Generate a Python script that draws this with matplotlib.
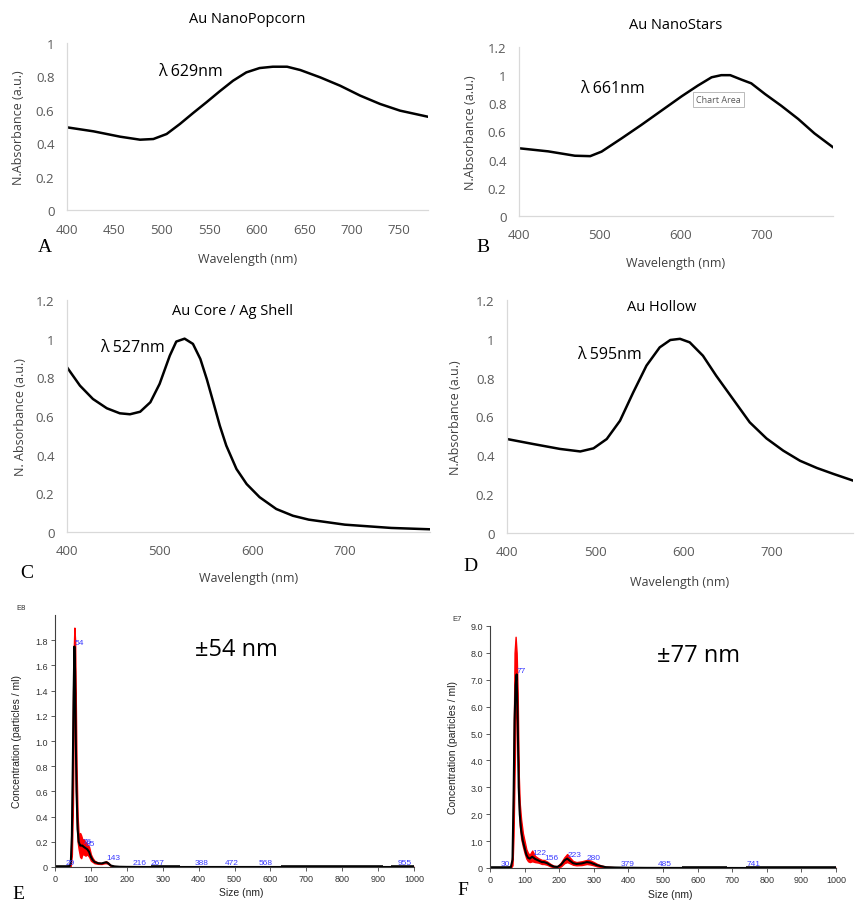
import matplotlib
matplotlib.use("Agg")
import matplotlib.pyplot as plt
import numpy as np

W, H = 858, 904

# ---- UV-Vis spectra (wavelength nm, normalised absorbance) ----
popcorn_wl = [400, 428, 456, 477, 491, 505, 519, 533, 547, 561, 575, 589, 603, 617, 632, 646, 667, 688, 709, 730, 751, 780]
popcorn_abs = [0.495, 0.471, 0.439, 0.421, 0.425, 0.455, 0.515, 0.581, 0.645, 0.711, 0.774, 0.824, 0.85, 0.858, 0.858, 0.838, 0.794, 0.744, 0.685, 0.635, 0.595, 0.559]

stars_wl = [400, 436, 469, 488, 502, 527, 551, 576, 601, 621, 638, 650, 661, 675, 687, 704, 724, 745, 765, 788]
stars_abs = [0.481, 0.459, 0.428, 0.425, 0.457, 0.552, 0.646, 0.748, 0.85, 0.926, 0.985, 1.0, 1.0, 0.968, 0.942, 0.866, 0.783, 0.689, 0.587, 0.488]

coreshell_wl = [400, 414, 428, 443, 457, 468, 479, 490, 500, 511, 518, 527, 536, 544, 551, 558, 565, 572, 583, 594, 608, 626, 644, 661, 700, 750, 792]
coreshell_abs = [0.852, 0.757, 0.688, 0.64, 0.614, 0.609, 0.622, 0.671, 0.766, 0.912, 0.985, 1.0, 0.973, 0.895, 0.79, 0.671, 0.55, 0.447, 0.326, 0.248, 0.18, 0.119, 0.084, 0.064, 0.038, 0.021, 0.014]

hollow_wl = [400, 430, 460, 483, 498, 513, 528, 543, 558, 573, 585, 596, 607, 622, 637, 656, 675, 694, 713, 732, 751, 770, 792]
hollow_abs = [0.484, 0.458, 0.433, 0.42, 0.436, 0.484, 0.578, 0.724, 0.862, 0.956, 0.994, 1.0, 0.982, 0.913, 0.81, 0.69, 0.57, 0.487, 0.424, 0.372, 0.335, 0.304, 0.27]

# ---- NTA size distributions ----
e_size = [0, 30, 40, 44, 47, 50, 52, 54, 56, 58, 60, 63, 66, 70, 73, 76, 80, 85, 90, 95, 100, 105, 110, 120, 130, 138, 143, 148, 155, 165, 180, 200, 250, 300, 400, 500, 600, 700, 800, 900, 1000]
e_mean = [0, 0, 0.005, 0.03, 0.25, 0.9, 1.4, 1.75, 1.55, 1.0, 0.6, 0.3, 0.2, 0.17, 0.17, 0.17, 0.16, 0.15, 0.14, 0.12, 0.08, 0.055, 0.04, 0.03, 0.028, 0.035, 0.038, 0.03, 0.012, 0.005, 0.002, 0.001, 0, 0, 0, 0, 0, 0, 0, 0, 0]
e_upper = [0, 0, 0.01, 0.06, 0.4, 1.3, 1.7, 1.9, 1.8, 1.3, 0.8, 0.4, 0.25, 0.27, 0.25, 0.22, 0.22, 0.2, 0.18, 0.16, 0.1, 0.07, 0.05, 0.035, 0.032, 0.04, 0.045, 0.035, 0.015, 0.007, 0.003, 0.002, 0, 0, 0, 0, 0, 0, 0, 0, 0]
e_lower = [0, 0, 0, 0.01, 0.1, 0.5, 1.1, 1.6, 1.3, 0.7, 0.4, 0.2, 0.14, 0.08, 0.07, 0.1, 0.1, 0.09, 0.1, 0.08, 0.05, 0.04, 0.03, 0.025, 0.024, 0.03, 0.03, 0.025, 0.01, 0.003, 0.001, 0, 0, 0, 0, 0, 0, 0, 0, 0, 0]
e_peaks = [29, 54, 76, 85, 143, 216, 267, 388, 472, 568, 955]
e_base = [(0, 41), (268, 347), (630, 913), (937, 1000)]

f_size = [0, 30, 50, 60, 65, 68, 71, 74, 77, 80, 83, 86, 90, 95, 100, 105, 110, 115, 122, 130, 140, 150, 156, 165, 175, 185, 195, 205, 215, 223, 230, 240, 250, 265, 280, 290, 300, 310, 320, 335, 360, 400, 450, 500, 600, 700, 800, 900, 1000]
f_mean = [0, 0, 0, 0.02, 0.3, 2.5, 5.5, 6.8, 7.2, 5.5, 3.0, 2.0, 1.4, 1.0, 0.75, 0.5, 0.38, 0.35, 0.42, 0.34, 0.28, 0.22, 0.22, 0.18, 0.1, 0.05, 0.04, 0.12, 0.28, 0.35, 0.28, 0.18, 0.15, 0.17, 0.22, 0.2, 0.15, 0.1, 0.07, 0.03, 0.02, 0.01, 0.005, 0.003, 0.002, 0.001, 0, 0, 0]
f_upper = [0, 0, 0, 0.04, 0.5, 4.0, 8.0, 8.6, 8.0, 6.5, 3.5, 2.4, 1.8, 1.3, 1.0, 0.7, 0.55, 0.5, 0.65, 0.45, 0.36, 0.3, 0.3, 0.24, 0.15, 0.08, 0.07, 0.2, 0.4, 0.52, 0.4, 0.26, 0.22, 0.25, 0.3, 0.28, 0.22, 0.15, 0.1, 0.05, 0.03, 0.015, 0.008, 0.005, 0.003, 0.002, 0, 0, 0]
f_lower = [0, 0, 0, 0, 0.1, 1.2, 3.5, 5.5, 6.5, 4.5, 2.5, 1.6, 1.1, 0.8, 0.55, 0.35, 0.25, 0.22, 0.25, 0.22, 0.2, 0.15, 0.15, 0.12, 0.06, 0.02, 0.02, 0.06, 0.18, 0.22, 0.18, 0.12, 0.1, 0.11, 0.15, 0.13, 0.1, 0.06, 0.04, 0.015, 0.01, 0.005, 0.002, 0.001, 0, 0, 0, 0, 0]
f_peaks = [30, 77, 122, 156, 223, 280, 379, 485, 741]
f_base = [(0, 60), (555, 685), (740, 1000)]

XL = ["Open Sans", "DejaVu Sans"]
NTA = ["Liberation Sans", "DejaVu Sans"]
SERIF = ["Liberation Serif", "DejaVu Serif"]

fig = plt.figure(figsize=(W / 100, H / 100), dpi=100)


def px_axes(l, r, top, bot):
    return fig.add_axes([l / W, 1 - bot / H, (r - l) / W, (bot - top) / H])


def excel_panel(ax, wl, ab, xlim, xticks, ymax, ylabel, lab_xy, peak_txt, peak_xy):
    ax.plot(wl, ab, color="black", lw=1.8, solid_joinstyle="round")
    ax.set_xlim(*xlim)
    ax.set_ylim(0, ymax)
    ax.set_xticks(xticks)
    yt = np.round(np.arange(0, ymax + 0.01, 0.2), 1)
    ax.set_yticks(yt)
    ax.set_yticklabels(["%g" % v for v in yt], family=XL)
    ax.set_xticklabels([str(v) for v in xticks], family=XL)
    for s in ["top", "right"]:
        ax.spines[s].set_visible(False)
    for s in ["left", "bottom"]:
        ax.spines[s].set_color("#d9d9d9")
        ax.spines[s].set_linewidth(0.9)
    ax.tick_params(length=0, labelsize=9.5, labelcolor="#595959", pad=9)
    ax.set_xlabel("Wavelength (nm)", family=XL, fontsize=9, color="#404040")
    ax.set_ylabel(ylabel, family=XL, fontsize=9, color="#404040")
    ax.xaxis.set_label_coords(0.5, lab_xy[0])
    ax.yaxis.set_label_coords(lab_xy[1], 0.5)
    ax.text(peak_xy[0], peak_xy[1], peak_txt, family=XL, fontsize=11.5, va="center", ha="left")
    ax.patch.set_alpha(0)


# A
axA = px_axes(67, 427.5, 44, 211)
excel_panel(axA, popcorn_wl, popcorn_abs, (400, 780), list(range(400, 751, 50)), 1.0,
            "N.Absorbance (a.u.)", (-0.25, -0.117), "λ 629nm", (496, 0.83))
axA.set_title("Au NanoPopcorn", family=XL, fontsize=10.5, pad=15)

# B
axB = px_axes(519, 833, 48, 217)
excel_panel(axB, stars_wl, stars_abs, (400, 788), [400, 500, 600, 700], 1.2,
            "N.Absorbance (a.u.)", (-0.237, -0.134), "λ 661nm", (475, 0.91))
axB.set_title("Au NanoStars", family=XL, fontsize=10.5, pad=14)
axB.text(0.565, 0.69, "Chart Area", transform=axB.transAxes, family=XL, fontsize=6.5,
         color="#595959", va="center", ha="left",
         bbox=dict(boxstyle="square,pad=0.35", fc="white", ec="#b0b0b0", lw=0.6))

# C
axC = px_axes(67, 430, 301, 533)
excel_panel(axC, coreshell_wl, coreshell_abs, (400, 792), [400, 500, 600, 700], 1.2,
            "N. Absorbance (a.u.)", (-0.168, -0.11), "λ 527nm", (436, 0.957))
axC.text(0.457, 0.953, "Au Core / Ag Shell", transform=axC.transAxes, family=XL,
         fontsize=10.5, ha="center", va="center")

# D
axD = px_axes(507, 853, 301, 534)
excel_panel(axD, hollow_wl, hollow_abs, (400, 792), [400, 500, 600, 700], 1.2,
            "N.Absorbance (a.u.)", (-0.18, -0.13), "λ 595nm", (479, 0.92))
axD.text(0.448, 0.974, "Au Hollow", transform=axD.transAxes, family=XL,
         fontsize=10.5, ha="center", va="center")


def nta_panel(ax, size, mean, lo, hi, ymax, yticks, ylabs, peaks, base, big, big_xy, exp_txt):
    ax.fill_between(size, lo, hi, color="#ff0000", lw=1.0, edgecolor="#ff0000")
    ax.plot(size, mean, color="black", lw=1.5)
    for a, b in base:
        ax.hlines(0, a, b, color="black", lw=2.6)
    for p in peaks:
        yv = np.interp(p, size, mean)
        ax.text(p, yv + ymax * 0.003, str(p), color="#3a3aff", fontsize=6, family=NTA,
                ha="left", va="bottom")
    ax.set_xlim(0, 1000)
    ax.set_ylim(0, ymax)
    ax.set_xticks(range(0, 1001, 100))
    ax.set_yticks(yticks)
    ax.set_yticklabels(ylabs)
    for s in ["top", "right"]:
        ax.spines[s].set_visible(False)
    for s in ["left", "bottom"]:
        ax.spines[s].set_color("#404040")
        ax.spines[s].set_linewidth(0.8)
    ax.tick_params(length=3, width=0.6, color="#404040", labelsize=6.5, labelcolor="#333333", pad=2)
    for t in ax.get_xticklabels() + ax.get_yticklabels():
        t.set_family(NTA)
    ax.set_xlabel("Size (nm)", family=NTA, fontsize=7.5, color="#222222")
    ax.set_ylabel("Concentration (particles / ml)", family=NTA, fontsize=7.5, color="#222222")
    ax.text(big_xy[0], big_xy[1], big, transform=ax.transAxes, family=XL, fontsize=17,
            ha="left", va="center")
    ax.text(-0.095, 1.015, exp_txt, transform=ax.transAxes, family=NTA, fontsize=5.5,
            color="#333333", ha="center", va="bottom")
    ax.patch.set_alpha(0)


axE = px_axes(55, 414, 616, 868)
nta_panel(axE, e_size, e_mean, e_lower, e_upper, 2.0, np.round(np.arange(0, 1.81, 0.2), 1),
          ["0"] + ["%.1f" % v for v in np.arange(0.2, 1.81, 0.2)], e_peaks, e_base,
          "±54 nm", (0.39, 0.865), "E8")
axE.xaxis.set_label_coords(0.52, -0.08)
axE.yaxis.set_label_coords(-0.092, 0.5)

axF = px_axes(490, 836, 627, 869)
nta_panel(axF, f_size, f_mean, f_lower, f_upper, 9.0, list(range(0, 10)),
          ["0"] + ["%.1f" % v for v in range(1, 10)], f_peaks, f_base,
          "±77 nm", (0.483, 0.88), "E7")
axF.xaxis.set_label_coords(0.52, -0.085)
axF.yaxis.set_label_coords(-0.092, 0.5)

# panel letters
for letter, (x, y) in zip("ABCDEF", [(45, 248), (483, 248), (27, 573), (470, 567), (18, 895), (463, 891)]):
    fig.text(x / W, 1 - y / H, letter, family=SERIF, fontsize=14, ha="center", va="center")

fig.savefig("out.png", dpi=100)
